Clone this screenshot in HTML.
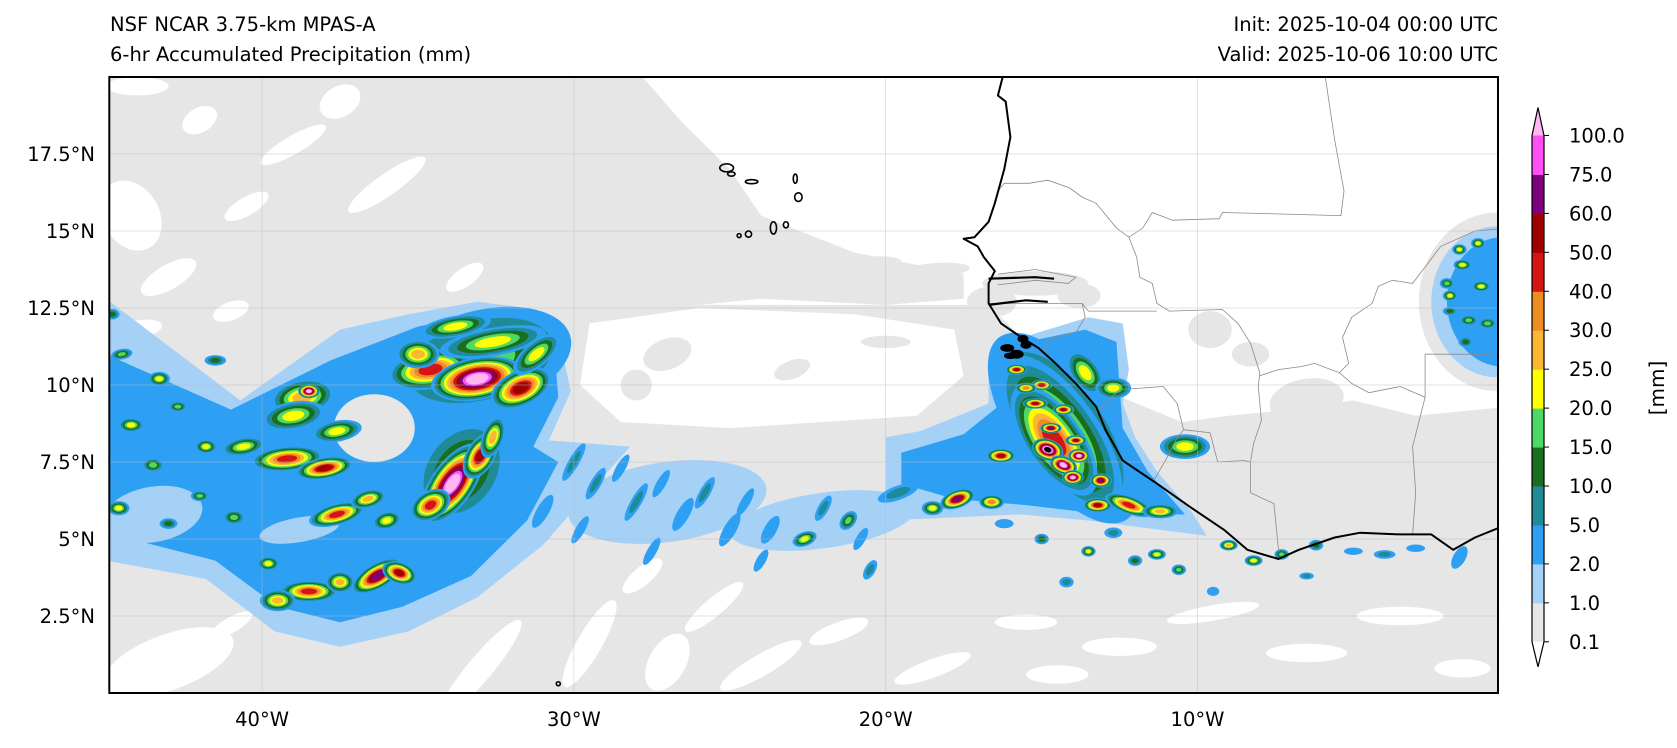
<!DOCTYPE html>
<html><head><meta charset="utf-8">
<style>
html,body{margin:0;padding:0;background:#fff;}
svg{display:block;font-family:"DejaVu Sans","Liberation Sans",sans-serif;}
</style></head>
<body>
<svg id="fig" width="1677" height="748" viewBox="0 0 1677 748" xmlns="http://www.w3.org/2000/svg">
  <text x="110" y="31" font-size="19.5">NSF NCAR 3.75-km MPAS-A</text>
  <text x="110" y="61" font-size="19.5">6-hr Accumulated Precipitation (mm)</text>
  <text x="1498" y="31" font-size="19.5" text-anchor="end">Init: 2025-10-04 00:00 UTC</text>
  <text x="1498" y="61" font-size="19.5" text-anchor="end">Valid: 2025-10-06 10:00 UTC</text>
  <defs><clipPath id="mapclip"><rect x="109.3" y="77" width="1388.7" height="616"/></clipPath></defs>
  <g id="map" clip-path="url(#mapclip)"></g>
  <rect x="109.3" y="77" width="1388.7" height="616" fill="none" stroke="#000" stroke-width="2"/>
  <g id="axes"></g>
  <g id="cbar"></g>
  <text x="1664" y="388" font-size="20" text-anchor="middle" transform="rotate(-90 1664 388)">[mm]</text>
</svg>
<script>
// ---- data ----
const levelValues = [0.1,1,2,5,10,15,20,25,30,40,50,60,75,100];
const levelLabels = ["0.1","1.0","2.0","5.0","10.0","15.0","20.0","25.0","30.0","40.0","50.0","60.0","75.0","100.0"];
const levelColors = ["#e6e6e6","#a6d1f7","#2ea0f4","#1f8b97","#1a6e1f","#4cd964","#ffff00","#fbb733","#ee8c22","#d61414","#a00000","#7d007d","#ff4ff5","#ffb6f2"];
const lonTicks = [-40,-30,-20,-10];
const lonTickLabels = ["40°W","30°W","20°W","10°W"];
const latTicks = [2.5,5,7.5,10,12.5,15,17.5];
const latTickLabels = ["2.5°N","5°N","7.5°N","10°N","12.5°N","15°N","17.5°N"];

const grayUpper = [[-45,20],[-27.8,20],[-26.5,18.5],[-25,17],[-24,15.5],[-21,14.3],[-17.5,13.6],[-17.5,12.8],[-20,12.6],[-24,12.8],[-28,12.4],[-30,11.5],[-30.5,9.5],[-45,9.5]];
const grayLower = [[-45,12.6],[-30,12.6],[-17,12.6],[-12,10],[0,10],[0,0],[-45,0]];
const whiteCentral = [[-29.5,12],[-26,12.5],[-21,12.3],[-17.8,11.8],[-17.5,10.3],[-19,9.0],[-22,8.8],[-25,8.6],[-28.5,8.8],[-29.8,10]];
const whiteLand = [[-16.3,20],[0,20],[0,9.3],[-3,9.0],[-5,9.5],[-7,9.2],[-9,9.0],[-10.5,8.8],[-12.2,9.5],[-13.3,10.0],[-14.6,10.7],[-15.6,11.5],[-16.7,12.6],[-16.8,13.5],[-17.3,14.7],[-16.3,16]];
// [lon, lat, rxDeg, ryDeg, angle]
const clearPatches = [[-44.2,15.5,0.9,1.2,-30],[-43,13.5,1.0,0.4,-30],[-39,17.8,1.2,0.3,-30],[-36,16.5,1.5,0.35,-35],[-40.5,15.8,0.8,0.3,-30],[-33.5,13.5,0.7,0.3,-35],[-44,19.7,1,0.3,0],[-37.5,19.2,0.7,0.5,-30],[-42,18.6,0.6,0.4,-30],[-44,11.8,0.8,0.3,-10],[-41,12.4,0.6,0.3,-20],[-43,1.0,2.2,0.9,-20],[-41,2.2,0.8,0.25,-30],[-33,0.8,2.0,0.4,-50],[-29.5,1.6,1.6,0.4,-60],[-27,1.0,1.0,0.6,-60],[-24,0.9,1.5,0.35,-30],[-25.5,2.8,1.2,0.3,-40],[-21.5,2.0,1.0,0.3,-20],[-18.5,0.8,1.3,0.3,-20],[-15.5,2.3,1.0,0.25,0],[-12.5,1.5,1.2,0.3,0],[-9.5,2.6,1.5,0.25,-10],[-6.5,1.3,1.3,0.3,0],[-3.5,2.5,1.4,0.3,0],[-1.5,0.8,0.9,0.3,0],[-14.5,0.6,1.0,0.3,0],[-27.8,3.8,0.8,0.3,-40]];
const grayPatches = [[-15.2,13.3,1.7,0.4,0],[-16.6,12.7,0.8,0.5,0],[-13.8,12.9,0.7,0.4,0],[-9.6,11.8,0.7,0.6,0],[-8.3,11.0,0.6,0.4,0],[-6.5,9.5,1.2,0.7,-10],[-18.5,13.7,1.2,0.25,-5],[-21,13.9,1.5,0.25,-5],[-24,14.5,1.0,0.3,-10],[-27,11.0,0.8,0.5,-20],[-23,10.5,0.6,0.3,-20],[-20,11.4,0.8,0.2,0],[-28,10.0,0.5,0.5,0],[-0.4,12.7,2.5,2.9,0]];

const westLight = [[-45,12.8],[-40.7,9.5],[-37.5,11.8],[-35.3,12.3],[-33.1,12.7],[-31.5,12.5],[-30.4,11.2],[-30.1,9.8],[-30.8,8.2],[-28.2,8.0],[-31.0,4.8],[-33.1,3.1],[-35.3,2.0],[-37.5,1.5],[-39.6,2.0],[-41.8,3.7],[-45,4.3]];
const westBlue = [[-45,11],[-41,9.2],[-37.8,10.8],[-35,11.9],[-33,12.3],[-31.5,12],[-30.6,10.8],[-30.5,9.6],[-31.3,8.0],[-30.5,7.5],[-31.5,5.6],[-33.3,3.8],[-35.5,2.8],[-37.5,2.3],[-39.5,2.8],[-41.5,4.3],[-45,5.2]];
const coastLight = [[-16.7,10.5],[-16.1,11.4],[-14.8,11.8],[-13.5,12.2],[-12.4,12.0],[-12.2,10.5],[-12.4,9.4],[-12.0,8.3],[-11.3,7.2],[-10.2,5.9],[-9.7,5.1],[-13.5,5.6],[-15.7,5.8],[-17.8,5.7],[-20.0,5.6],[-20.0,8.3],[-18.9,8.5],[-16.7,9.4]];
const coastBlue = [[-16.3,10.8],[-15.5,11.4],[-13.6,11.8],[-12.6,11.4],[-12.5,10],[-12.4,8.6],[-11.6,7.2],[-10.4,5.8],[-13,5.8],[-15.5,6.1],[-17.8,6.3],[-19.5,6.8],[-19.5,7.8],[-17.5,8.4],[-16.4,9.3]];
// [lon, lat, rxDeg, ryDeg, angle, level]
const envelopes = [[-0.4,12.7,2.1,2.45,0,1],[-0.2,12.7,1.8,2.1,0,2],[-43.5,5.8,1.6,0.9,-10,1],[-38.8,5.3,1.3,0.4,-10,1],[-36.4,8.6,1.3,1.1,0,0],[-27,6.2,3.2,1.3,-8,1],[-22,5.6,3,0.9,-8,1]];
const cells = [
[-33.0,10.8,2.6,1.4,-15,5],[-34.6,10.5,1.2,0.55,-10,9],[-33.1,10.2,1.3,0.6,-10,13],[-31.7,9.9,0.9,0.5,-25,10],[-32.6,11.4,1.5,0.4,-10,6],[-33.8,11.9,1.0,0.3,-10,6],[-31.2,11.0,0.8,0.35,-40,6],[-35.0,11.0,0.6,0.4,0,7],
[-33.6,7.2,1.6,1.2,-55,5],[-33.9,6.8,1.3,0.6,-55,13],[-33.0,7.7,0.7,0.4,-60,10],[-34.6,6.1,0.6,0.4,-30,9],[-32.6,8.3,0.6,0.3,-70,7],
[-38.7,9.6,0.9,0.5,-10,7],[-38.5,9.8,0.3,0.2,0,13],[-39.0,9.0,0.9,0.4,-10,6],[-39.2,7.6,1.0,0.35,-5,9],[-38.0,7.3,0.8,0.3,-10,10],[-37.6,8.5,0.7,0.3,-10,6],[-40.6,8.0,0.6,0.25,-10,6],
[-36.3,3.8,0.8,0.35,-30,11],[-35.6,3.9,0.3,0.5,-70,10],[-38.5,3.3,0.8,0.3,0,9],[-39.5,3.0,0.5,0.3,0,7],[-37.5,3.6,0.4,0.3,0,7],[-39.8,4.2,0.3,0.2,0,6],
[-37.6,5.8,0.8,0.3,-15,9],[-36.6,6.3,0.5,0.25,-15,7],[-36.0,5.6,0.4,0.25,-15,6],
[-44.5,11,0.3,0.15,-10,5],[-43.3,10.2,0.3,0.2,0,6],[-44.2,8.7,0.35,0.2,0,6],[-42.7,9.3,0.25,0.15,0,5],[-41.8,8.0,0.3,0.2,0,6],[-43.5,7.4,0.3,0.2,0,5],[-44.6,6.0,0.3,0.2,0,6],[-42.0,6.4,0.25,0.15,0,5],[-40.9,5.7,0.3,0.2,0,5],[-43.0,5.5,0.25,0.15,0,4],[-41.5,10.8,0.3,0.15,0,4],[-44.8,12.3,0.2,0.15,0,4],
[-30,7.5,0.6,0.15,-60,3],[-29.3,6.8,0.5,0.15,-60,3],[-28.5,7.3,0.5,0.15,-60,2],[-28,6.2,0.6,0.15,-60,3],[-27.2,6.8,0.5,0.15,-60,2],[-26.5,5.8,0.6,0.2,-60,2],[-25.8,6.5,0.5,0.15,-60,3],[-25,5.3,0.6,0.2,-60,2],[-24.5,6.2,0.5,0.15,-60,2],[-23.7,5.3,0.5,0.2,-60,2],[-22.6,5.0,0.35,0.2,-20,6],[-22,6.0,0.4,0.15,-60,3],[-21.2,5.6,0.3,0.2,-50,5],[-20.8,5.0,0.4,0.15,-60,2],[-19.6,6.5,0.6,0.2,-20,3],[-17.7,6.3,0.5,0.25,-20,11],[-18.5,6.0,0.3,0.2,0,6],[-16.6,6.2,0.35,0.2,0,8],[-27.5,4.6,0.5,0.15,-60,2],[-24,4.3,0.4,0.15,-60,2],[-20.5,4.0,0.3,0.15,-60,3],[-29.8,5.3,0.5,0.15,-60,2],[-31,5.9,0.6,0.2,-60,2],
[-14.3,8.6,3.1,1.4,55,5],[-14.4,8.4,2.6,1.1,55,7],[-14.6,8.2,1.8,0.8,55,9],[-14.8,7.9,0.45,0.3,20,14],[-14.3,7.4,0.4,0.25,20,13],[-13.8,7.7,0.3,0.2,0,13],[-14.0,7.0,0.3,0.2,0,13],
[-15.8,10.5,0.3,0.15,0,10],[-15.0,10.0,0.3,0.15,0,10],[-15.2,9.4,0.35,0.15,0,10],[-14.3,9.2,0.3,0.15,0,10],[-14.7,8.6,0.3,0.15,0,11],[-13.9,8.2,0.3,0.15,0,10],[-13.1,6.9,0.3,0.2,0,11],[-13.2,6.1,0.4,0.2,0,10],[-15.5,9.9,0.3,0.15,0,8],
[-13.6,10.4,0.7,0.4,55,6],[-12.7,9.9,0.5,0.3,0,6],[-16.3,7.7,0.4,0.2,0,10],[-12.2,6.1,0.7,0.25,20,9],[-11.2,5.9,0.5,0.2,0,7],[-10.4,8.0,0.7,0.35,0,6],
[-15,5.0,0.2,0.15,0,4],[-13.5,4.6,0.2,0.15,0,6],[-12,4.3,0.2,0.15,0,4],[-11.3,4.5,0.25,0.15,0,6],[-10.6,4.0,0.2,0.15,0,5],[-9,4.8,0.25,0.15,0,7],[-8.2,4.3,0.25,0.15,0,6],[-7.3,4.5,0.2,0.15,0,5],[-6.2,4.8,0.2,0.15,0,4],[-5,4.6,0.3,0.12,0,2],[-4,4.5,0.3,0.12,0,3],[-3,4.7,0.3,0.12,0,2],[-1.6,4.4,0.4,0.2,-60,2],[-14.2,3.6,0.2,0.15,0,3],[-9.5,3.3,0.2,0.15,0,2],[-6.5,3.8,0.2,0.1,0,3],[-16.2,5.5,0.3,0.15,0,2],[-12.7,5.2,0.25,0.15,0,3],
[-1.9,12.9,0.2,0.15,0,6],[-1.5,13.9,0.25,0.15,0,6],[-1.3,12.1,0.25,0.15,0,5],[-2.0,13.3,0.2,0.15,0,5],[-1.6,14.4,0.2,0.15,0,6],[-1.4,11.4,0.2,0.15,0,4],[-1.9,12.4,0.2,0.12,0,4],[-0.9,13.2,0.25,0.15,0,6],[-0.7,12.0,0.25,0.15,0,5],[-1.0,14.6,0.2,0.15,0,6]
];

const coastline = [[-16.24,20.03],[-16.4,19.4],[-16.15,19.2],[-16.0,18.05],[-16.2,17.0],[-16.5,15.9],[-16.7,15.3],[-17.15,14.8],[-17.5,14.75],[-17.05,14.5],[-16.85,14.15],[-16.5,13.7],[-16.7,13.3],[-16.7,12.65],[-16.3,12.0],[-15.65,11.55],[-15.1,11.2],[-14.55,10.7],[-13.9,10.05],[-13.25,9.3],[-12.95,8.55],[-12.4,7.55],[-11.3,6.8],[-10.25,6.05],[-9.15,5.3],[-8.4,4.65],[-7.4,4.35],[-6.75,4.65],[-5.6,5.05],[-4.8,5.2],[-3.5,5.15],[-2.5,5.15],[-1.8,4.65],[-1.1,5.05],[0,5.5]];
const rivers = [[[-16.7,13.45],[-15.2,13.5],[-14.6,13.45]],[[-16.7,12.6],[-15.5,12.75],[-14.8,12.7]]];
// [lon, lat, rxDeg, ryDeg]
const islands = [[-25.1,17.05,0.22,0.13],[-24.95,16.85,0.12,0.07],[-24.3,16.6,0.2,0.06],[-22.9,16.7,0.06,0.15],[-22.8,16.1,0.12,0.14],[-23.2,15.2,0.08,0.1],[-23.6,15.1,0.1,0.2],[-24.4,14.9,0.1,0.1],[-24.7,14.85,0.05,0.05],[-16.1,11.2,0.2,0.1],[-15.8,11.0,0.2,0.12],[-15.5,11.3,0.15,0.1],[-16.0,10.95,0.18,0.08],[-15.6,11.5,0.15,0.1],[-30.5,0.3,0.05,0.05]];
const borders = [
[[-16.4,16.3],[-16.2,16.55],[-15.4,16.55],[-14.8,16.65],[-14.1,16.4],[-13.7,16.1],[-13.25,15.9],[-12.6,15.1],[-12.2,14.8],[-11.95,14.15],[-11.85,13.5],[-11.45,13.3],[-11.3,12.65],[-10.9,12.4],[-9.2,12.45],[-8.7,12.0],[-8.3,11.35],[-8.0,10.4],[-8.05,9.95],[-7.95,8.85],[-8.2,8.1],[-8.3,7.5],[-8.3,6.5],[-7.55,6.15],[-7.4,4.65]],
[[-12.2,14.8],[-11.75,15.1],[-11.45,15.6],[-10.8,15.35],[-9.3,15.4],[-9.2,15.6],[-5.4,15.5],[-5.3,16.3],[-5.6,17.95],[-5.9,20.0]],
[[-16.4,13.6],[-15.2,13.75],[-13.9,13.5],[-14.15,13.3],[-15.2,13.4],[-16.4,13.25]],
[[-16.7,12.65],[-13.7,12.65],[-13.5,12.4],[-11.3,12.4]],
[[-13.7,12.65],[-13.6,12.2],[-13.9,11.7],[-14.7,11.5],[-15.0,10.95]],
[[-13.25,9.1],[-12.5,9.85],[-11.1,9.95],[-10.65,9.4],[-10.45,8.55],[-9.6,8.45],[-9.35,7.5],[-8.5,7.55],[-8.3,7.5]],
[[-10.45,8.55],[-10.7,8.2],[-11.0,7.6],[-11.4,6.9]],
[[-8.0,10.3],[-7.4,10.5],[-6.65,10.6],[-6.25,10.7],[-5.45,10.4],[-5.15,10.7],[-5.35,11.55],[-5.05,12.2],[-4.4,12.65],[-4.2,13.2],[-3.75,13.4],[-3.1,13.3],[-2.2,14.5],[-1.1,15.0],[0,15.1]],
[[-5.45,10.4],[-5.05,10.05],[-4.5,9.75],[-3.5,9.95],[-2.7,9.6],[-2.7,11.0],[-0.6,11.0],[-0.1,11.1]],
[[-2.7,9.6],[-3.1,8.0],[-3.0,6.5],[-3.1,5.15]]
];

// ---- axis functions ----
const X0=109.3, Y0=77, LON0=-44.9, PXX=31.18, PXY=30.8;
function xOf(lon){return X0+(lon-LON0)*PXX;}
function yOf(lat){return Y0+(20-lat)*PXY;}
const NS="http://www.w3.org/2000/svg";
const map=document.getElementById('map');
function mk(tag,attrs,parent){const e=document.createElementNS(NS,tag);for(const k in attrs)e.setAttribute(k,attrs[k]);parent.appendChild(e);return e;}
function pts(arr){return arr.map(p=>xOf(p[0]).toFixed(1)+','+yOf(p[1]).toFixed(1)).join(' ');}
function poly(arr,fill,name,parent){const e=mk('polygon',{points:pts(arr),fill:fill},parent||map);


return e;}
function ell(c,fill,scale,name,parent){const cx=xOf(c[0]),cy=yOf(c[1]);const e=mk('ellipse',{cx:cx.toFixed(1),cy:cy.toFixed(1),rx:(c[2]*PXX*scale).toFixed(1),ry:(c[3]*PXY*scale).toFixed(1),transform:'rotate('+c[4]+' '+cx.toFixed(1)+' '+cy.toFixed(1)+')',fill:fill},parent||map);


return e;}

poly(grayUpper,levelColors[0],'light-precip-area-north');
poly(grayLower,levelColors[0],'light-precip-area-south');
poly(whiteCentral,'#fff','dry-area-central');
poly(whiteLand,'#fff','dry-area-land');
clearPatches.forEach(c=>ell(c,'#fff',1,'dry-patch'));
grayPatches.forEach(c=>ell(c,levelColors[0],1,'light-precip-patch'));
poly(westLight,levelColors[1],'west-storm-envelope');
poly(westBlue,levelColors[2],'west-storm-core');
poly(coastLight,levelColors[1],'coastal-storm-envelope');
poly(coastBlue,levelColors[2],'coastal-storm-core');
envelopes.forEach(c=>ell(c,levelColors[c[5]],1,'precip-envelope'));
cells.forEach(c=>{
  const L=c[5];
  const g=mk('g',{},map);
  
  
  if(L<=2){ell(c,levelColors[L],1,'cell-ring',g);return;}
  for(let k=2;k<=L;k++){
    const s=1-0.82*(k-2)/(L-1);
    ell(c,levelColors[k],s*1.15,'cell-ring',g);
  }
});
borders.forEach(b=>{const e=mk('polyline',{points:pts(b),fill:'none',stroke:'#8a8a8a','stroke-width':0.8},map);

});
lonTicks.forEach(l=>{const e=mk('line',{x1:xOf(l),x2:xOf(l),y1:Y0,y2:693,stroke:'#bbb','stroke-width':0.7,'stroke-opacity':0.6},map);

});
latTicks.forEach(l=>{const e=mk('line',{x1:X0,x2:1498,y1:yOf(l),y2:yOf(l),stroke:'#bbb','stroke-width':0.7,'stroke-opacity':0.6},map);

});
const cl=mk('polyline',{points:pts(coastline),fill:'none',stroke:'#000','stroke-width':2,'stroke-linejoin':'round'},map);


rivers.forEach(r=>{const e=mk('polyline',{points:pts(r),fill:'none',stroke:'#000','stroke-width':2.2},map);

});
islands.forEach(i=>{const cx=xOf(i[0]),cy=yOf(i[1]);const e=mk('ellipse',{cx:cx,cy:cy,rx:Math.max(2,i[2]*PXX),ry:Math.max(2,i[3]*PXY),fill:i[0]>-20?'#000':'none',stroke:'#000','stroke-width':1.6},map);

});

const ax=document.getElementById('axes');
lonTicks.forEach((l,i)=>{const t=mk('text',{x:xOf(l),y:726,'font-size':19.5,'text-anchor':'middle'},ax);t.textContent=lonTickLabels[i];

});
latTicks.forEach((l,i)=>{const t=mk('text',{x:95,y:yOf(l)+7,'font-size':19.5,'text-anchor':'end'},ax);t.textContent=latTickLabels[i];

});

const cb=document.getElementById('cbar');
const CBX=1532, CBW=12, CBTOP=135.5, CBBOT=641.8;
const step=(CBBOT-CBTOP)/(levelValues.length-1);
function cbY(i){return CBBOT-i*step;}
for(let i=0;i<levelValues.length-1;i++){
  const r=mk('rect',{x:CBX,y:cbY(i+1),width:CBW,height:step+0.5,fill:levelColors[i]},cb);
  
  
}
const tri1=mk('polygon',{points:`${CBX},${CBTOP} ${CBX+CBW},${CBTOP} ${CBX+CBW/2},${CBTOP-28}`,fill:levelColors[13]},cb);


const tri2=mk('polygon',{points:`${CBX},${CBBOT} ${CBX+CBW},${CBBOT} ${CBX+CBW/2},${CBBOT+25}`,fill:'#fff'},cb);


const outline=mk('polygon',{points:`${CBX+CBW/2},${CBTOP-28} ${CBX+CBW},${CBTOP} ${CBX+CBW},${CBBOT} ${CBX+CBW/2},${CBBOT+25} ${CBX},${CBBOT} ${CBX},${CBTOP}`,fill:'none',stroke:'#000','stroke-width':1.2},cb);


levelValues.forEach((v,i)=>{
  const y=cbY(i);
  const tk=mk('line',{x1:CBX+CBW,x2:CBX+CBW+5,y1:y,y2:y,stroke:'#000','stroke-width':1},cb);
  
  
  const t=mk('text',{x:1569,y:y+7,'font-size':19.5},cb);t.textContent=levelLabels[i];
  
  
});
</script>
</body></html>
